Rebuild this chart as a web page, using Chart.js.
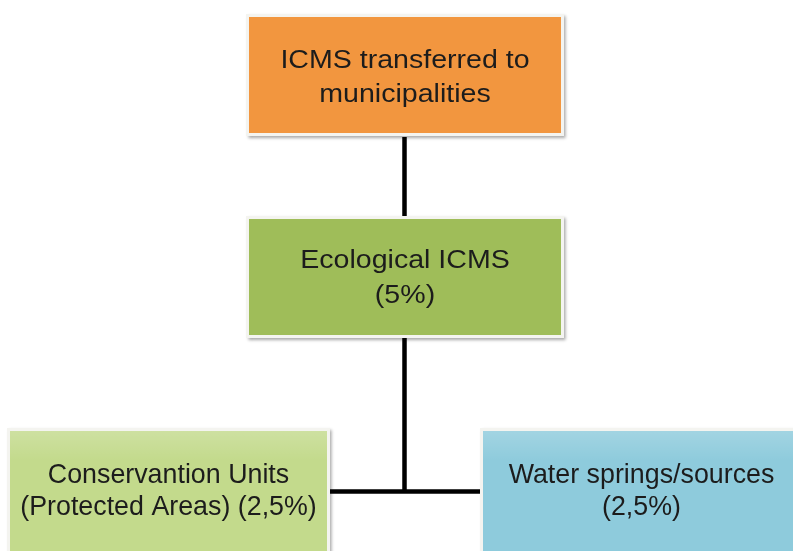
<!DOCTYPE html>
<html>
<head>
<meta charset="utf-8">
<script src="https://cdn.jsdelivr.net/npm/chart.js@4/dist/chart.umd.min.js"></script>
<style>
    html, body { margin: 0; padding: 0; background: #ffffff; }
    #diagram { display: block; }
</style>
</head>
<body>
<canvas id="diagram" width="793" height="551"></canvas>
<script>
// diagram content
const nodeLines = [
    ['ICMS transferred to', 'municipalities'],
    ['Ecological ICMS', '(5%)'],
    ['Conservantion Units', '(Protected Areas) (2,5%)'],
    ['Water springs/sources', '(2,5%)']
];
const nodeParent = [-1, 0, 1, 1];
const nodeColors = ['#f2963f', '#9fbd59', '#c3da8c', '#8ecbdc'];

// layout in canvas units (x: 0..793, y: 0..551 top-down)
const boxes = [
    {x0: 249, x1: 561, y0: 17, y1: 133, base: 68, gap: 33.5, size: 25.5, stretch: 1.12},
    {x0: 249, x1: 561, y0: 219, y1: 335, base: 268, gap: 35, size: 25.5, stretch: 1.12},
    {x0: 10, x1: 327, y0: 431, y1: 570, base: 483, gap: 32, size: 27.5, stretch: 0.975},
    {x0: 483, x1: 800, y0: 431, y1: 570, base: 483, gap: 32, size: 27.5, stretch: 0.975}
];
const trunkX = 404.5;
const busY = 491.5;

function buildConnectors() {
    const segments = [];
    // parent -> single child straight down
    segments.push([{x: trunkX, y: boxes[0].y1 + 4}, {x: trunkX, y: boxes[1].y0}]);
    // parent -> two children through a horizontal bus
    segments.push([{x: trunkX, y: boxes[1].y1 + 3}, {x: trunkX, y: busY}]);
    segments.push([{x: boxes[2].x1, y: busY}, {x: boxes[3].x0, y: busY}]);
    return segments.map(points => ({
        data: points,
        showLine: true,
        borderColor: '#000000',
        borderWidth: 4.5,
        pointRadius: 0,
        borderCapStyle: 'butt'
    }));
}

const boxPlugin = {
    id: 'boxes',
    afterDatasetsDraw(chart) {
        const {ctx, scales: {x, y}} = chart;
        boxes.forEach((b, i) => {
            const left = x.getPixelForValue(b.x0);
            const right = x.getPixelForValue(b.x1);
            const top = y.getPixelForValue(b.y0);
            const bottom = y.getPixelForValue(b.y1);
            const w = right - left;
            const h = bottom - top;

            ctx.save();
            ctx.shadowColor = 'rgba(0, 0, 0, 0.35)';
            ctx.shadowBlur = 3;
            ctx.shadowOffsetX = 1.5;
            ctx.shadowOffsetY = 2;
            ctx.fillStyle = '#f4f4f0';
            ctx.fillRect(left - 3, top - 3, w + 6, h + 6);
            ctx.restore();

            ctx.save();
            ctx.fillStyle = nodeColors[i];
            ctx.fillRect(left, top, w, h);
            if (i >= 2) {
                // soft glossy band near the top of the lower boxes
                const g = ctx.createLinearGradient(0, top, 0, top + 30);
                g.addColorStop(0, 'rgba(255,255,255,0.18)');
                g.addColorStop(1, 'rgba(255,255,255,0)');
                ctx.fillStyle = g;
                ctx.fillRect(left, top, w, 30);
            }
            ctx.restore();

            ctx.save();
            ctx.fillStyle = '#1c1c1c';
            ctx.font = b.size + 'px "Liberation Sans", Arial, Helvetica, sans-serif';
            ctx.textAlign = 'center';
            ctx.textBaseline = 'alphabetic';
            const cx = (Math.max(left, 0) + Math.min(right, chart.width + 5)) / 2;
            const textX = i === 3 ? (left + right) / 2 : cx;
            nodeLines[i].forEach((line, k) => {
                ctx.save();
                ctx.translate(textX, y.getPixelForValue(b.base + k * b.gap));
                ctx.scale(b.stretch, 1);
                ctx.fillText(line, 0, 0);
                ctx.restore();
            });
            ctx.restore();
        });
    }
};

new Chart(document.querySelector('#diagram'), {
    type: 'scatter',
    data: {datasets: buildConnectors()},
    options: {
        responsive: false,
        animation: false,
        layout: {padding: 0},
        plugins: {
            legend: {display: false},
            tooltip: {enabled: false}
        },
        scales: {
            x: {type: 'linear', min: 0, max: 793, display: false},
            y: {type: 'linear', min: 0, max: 551, reverse: true, display: false}
        }
    },
    plugins: [boxPlugin]
});
</script>
</body>
</html>
